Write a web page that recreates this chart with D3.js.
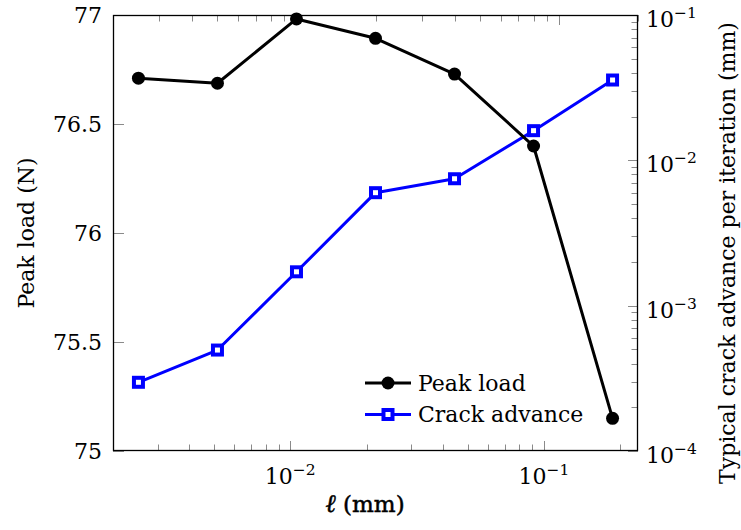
<!DOCTYPE html>
<html>
<head>
<meta charset="utf-8">
<script src="https://cdn.jsdelivr.net/npm/d3@7/dist/d3.min.js"></script>
<style>
  html, body { margin: 0; padding: 0; background: #fff; }
  svg { display: block; font-family: "DejaVu Serif", serif; }
</style>
</head>
<body>
<svg id="chart" width="741" height="530"></svg>
<script>
// Length scale ℓ (mm)
const ellValues = [0.0025, 0.005, 0.01, 0.02, 0.04, 0.08, 0.16];
// Peak load (N)
const peakLoad = [76.710, 76.687, 76.982, 76.893, 76.729, 76.399, 75.150];
// Typical crack advance per iteration (mm)
const crackAdvance = [2.97e-4, 4.95e-4, 1.71e-3, 5.99e-3, 7.47e-3, 1.60e-2, 3.57e-2];

const leftTicks = [75, 75.5, 76, 76.5, 77];
const leftTickLabels = ["75", "75.5", "76", "76.5", "77"];
const seriesNames = ["Peak load", "Crack advance"];

const svg = d3.select("#chart");
const plot = { left: 113, right: 638, top: 15, bottom: 451 };

// Scale used for the data and the top ticks
const xData = d3.scaleLog().domain([0.002, 0.2]).range([plot.left, plot.right]);
// Scale used for the labelled bottom axis
const xAxisScale = d3.scaleLog().domain([0.002, 0.235]).range([plot.left, plot.right]);
const yLeft = d3.scaleLinear().domain([75, 77]).range([plot.bottom, plot.top]);
const yRight = d3.scaleLog().domain([1e-4, 1e-1]).range([plot.bottom, plot.top]);

const isMajor = v => Math.abs(Math.log10(v) - Math.round(Math.log10(v))) < 1e-9;
const tickColor = "#8a8a8a";
const majorLen = 10, minorLen = 6.5;

const g = svg.append("g");

// ---- ticks ----
const ticks = g.append("g").attr("stroke", tickColor).attr("stroke-width", 1);

// bottom axis ticks
xAxisScale.ticks().forEach(v => {
  const x = Math.round(xAxisScale(v)) + 0.5;
  const len = isMajor(v) ? majorLen : minorLen;
  ticks.append("line").attr("x1", x).attr("x2", x)
    .attr("y1", plot.bottom).attr("y2", plot.bottom - len);
});
// top ticks from the data scale
xData.ticks().forEach(v => {
  const x = Math.round(xData(v)) + 0.5;
  const len = isMajor(v) ? majorLen : minorLen;
  ticks.append("line").attr("x1", x).attr("x2", x)
    .attr("y1", plot.top).attr("y2", plot.top + len);
});
// left linear ticks
leftTicks.forEach(v => {
  const y = Math.round(yLeft(v)) + 0.5;
  ticks.append("line").attr("x1", plot.left).attr("x2", plot.left + 11)
    .attr("y1", y).attr("y2", y);
});
// right log ticks
yRight.ticks().forEach(v => {
  const y = Math.round(yRight(v)) + 0.5;
  const len = isMajor(v) ? majorLen : minorLen;
  ticks.append("line").attr("x1", plot.right).attr("x2", plot.right - len)
    .attr("y1", y).attr("y2", y);
});

// ---- frame ----
g.append("rect")
  .attr("x", plot.left + 0.5).attr("y", plot.top + 0.5)
  .attr("width", plot.right - plot.left - 1).attr("height", plot.bottom - plot.top - 1)
  .attr("fill", "none").attr("stroke", "#000").attr("stroke-width", 1.3);

// ---- tick labels ----
const labelSize = 22, supSize = 15.5;
const ink = "#000";

leftTicks.forEach((v, i) => {
  g.append("text")
    .attr("x", plot.left - 11).attr("y", yLeft(v))
    .attr("dy", "0.36em")
    .attr("text-anchor", "end")
    .attr("font-size", labelSize)
    .attr("fill", ink)
    .text(leftTickLabels[i]);
});

function powerLabel(sel, exp) {
  sel.append("tspan").text("10");
  sel.append("tspan").attr("font-size", supSize).attr("dy", -9).text("\u2212" + Math.abs(exp));
}

xAxisScale.ticks().filter(isMajor).forEach(v => {
  const t = g.append("text")
    .attr("x", xAxisScale(v)).attr("y", 484)
    .attr("text-anchor", "middle")
    .attr("font-size", labelSize)
    .attr("fill", ink);
  powerLabel(t, Math.round(Math.log10(v)));
});

yRight.ticks().filter(isMajor).forEach(v => {
  const t = g.append("text")
    .attr("x", plot.right + 8).attr("y", yRight(v) + 12)
    .attr("text-anchor", "start")
    .attr("font-size", labelSize)
    .attr("fill", ink);
  powerLabel(t, Math.round(Math.log10(v)));
});

// ---- axis titles ----
const xTitle = g.append("text")
  .attr("x", 365).attr("y", 512)
  .attr("text-anchor", "middle")
  .attr("font-size", labelSize + 1)
  .attr("fill", ink)
  .attr("stroke", ink).attr("stroke-width", 0.5);
xTitle.append("tspan").attr("font-style", "italic").attr("font-size", labelSize + 3).text("\u2113");
xTitle.append("tspan").text(" (mm)");

g.append("text")
  .attr("transform", `translate(34,${(plot.top + plot.bottom) / 2}) rotate(-90)`)
  .attr("text-anchor", "middle")
  .attr("font-size", labelSize)
  .attr("fill", ink)
  .text("Peak load (N)");

g.append("text")
  .attr("transform", `translate(735,${(plot.top + plot.bottom) / 2 + 20}) rotate(-90)`)
  .attr("text-anchor", "middle")
  .attr("font-size", labelSize)
  .attr("fill", ink)
  .text("Typical crack advance per iteration (mm)");

// ---- series ----
const peakLine = d3.line().x((d, i) => xData(ellValues[i])).y(d => yLeft(d));
const crackLine = d3.line().x((d, i) => xData(ellValues[i])).y(d => yRight(d));

g.append("path").datum(crackAdvance)
  .attr("d", crackLine).attr("fill", "none")
  .attr("stroke", "#0000ff").attr("stroke-width", 3).attr("stroke-linejoin", "round");
const sq = 9;
g.selectAll(".crack-pt").data(crackAdvance).enter().append("rect")
  .attr("class", "crack-pt")
  .attr("x", (d, i) => xData(ellValues[i]) - sq / 2)
  .attr("y", d => yRight(d) - sq / 2)
  .attr("width", sq).attr("height", sq)
  .attr("fill", "#fff").attr("stroke", "#0000ff").attr("stroke-width", 4);

g.append("path").datum(peakLoad)
  .attr("d", peakLine).attr("fill", "none")
  .attr("stroke", "#000").attr("stroke-width", 3).attr("stroke-linejoin", "round");
g.selectAll(".peak-pt").data(peakLoad).enter().append("circle")
  .attr("class", "peak-pt")
  .attr("cx", (d, i) => xData(ellValues[i]))
  .attr("cy", d => yLeft(d))
  .attr("r", 6.5).attr("fill", "#000");

// ---- legend ----
const legend = g.append("g").attr("transform", "translate(365,383)");
const rowGap = 31.5;
// row 1: peak load
legend.append("line").attr("x1", 0).attr("x2", 46).attr("y1", 0).attr("y2", 0)
  .attr("stroke", "#000").attr("stroke-width", 3);
legend.append("circle").attr("cx", 23).attr("cy", 0).attr("r", 6.5).attr("fill", "#000");
legend.append("text").attr("x", 53).attr("y", 0).attr("dy", "0.36em")
  .attr("font-size", labelSize).attr("fill", ink).text(seriesNames[0]);
// row 2: crack advance
legend.append("line").attr("x1", 0).attr("x2", 46).attr("y1", rowGap).attr("y2", rowGap)
  .attr("stroke", "#0000ff").attr("stroke-width", 3);
legend.append("rect").attr("x", 23 - sq / 2).attr("y", rowGap - sq / 2)
  .attr("width", sq).attr("height", sq)
  .attr("fill", "#fff").attr("stroke", "#0000ff").attr("stroke-width", 4);
legend.append("text").attr("x", 53).attr("y", rowGap).attr("dy", "0.36em")
  .attr("font-size", labelSize).attr("fill", ink).text(seriesNames[1]);
</script>
</body>
</html>
